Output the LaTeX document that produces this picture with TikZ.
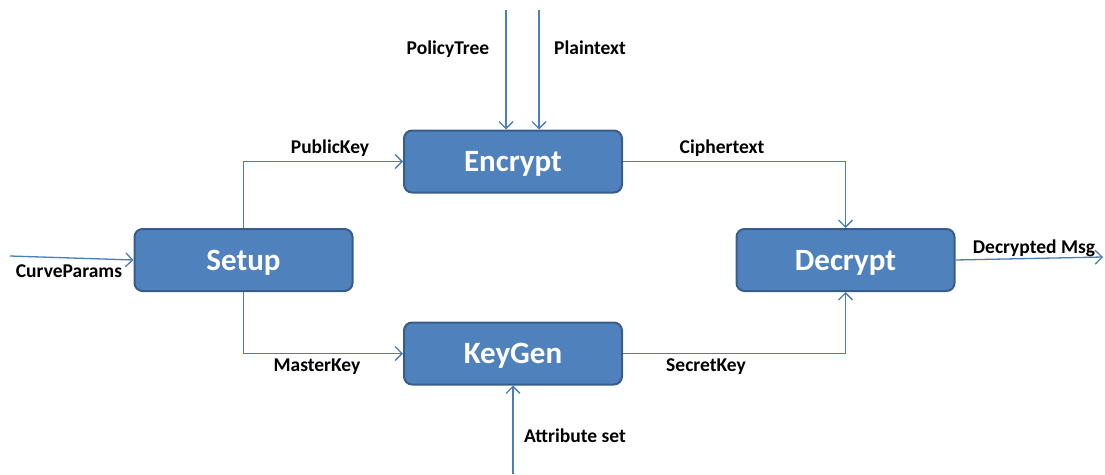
\documentclass[tikz,border=0pt]{standalone}
\usepackage{fontspec}
\setmainfont{Carlito}
\usetikzlibrary{arrows.meta}
\definecolor{boxfill}{HTML}{4F81BD}
\definecolor{boxline}{HTML}{385D8A}
\definecolor{lineblue}{HTML}{4A7EBB}
\begin{document}
\begin{tikzpicture}[x=1pt,y=-1pt,
  proc/.style={draw=boxline, line width=2pt, fill=boxfill, rounded corners=8pt,
    minimum width=218pt, minimum height=62pt, inner sep=0pt,
    text height=20pt, text depth=0pt,
    text=white, font=\fontsize{31}{34}\selectfont\bfseries},
  lbl/.style={font=\fontsize{19.5}{22}\selectfont\bfseries, text=black, inner sep=0pt},
  conn/.style={draw=lineblue, line width=1.3pt, -{Straight Barb[length=7pt,width=14pt,line width=1.3pt]}}
]
\useasboundingbox (0,0) rectangle (1105,474);
\node[proc] (setup) at (243.5,260) {Setup};
\node[proc] (enc) at (513,161.5) {Encrypt};
\node[proc] (kg) at (513,353.5) {KeyGen};
\node[proc] (dec) at (845.5,260) {Decrypt};

\coordinate (cpin) at (10,256);
\coordinate (pt1) at (506,10);
\coordinate (pt2) at (539,10);
\coordinate (attr) at (513,474);
\coordinate (msg) at (1103,257);

\draw[conn] (cpin) -- (setup.west);
\draw[conn] (pt1) -- (pt1 |- enc.north);
\draw[conn] (pt2) -- (pt2 |- enc.north);
\draw[conn] (setup.north) |- (enc.west);
\draw[conn] (setup.south) |- (kg.west);
\draw[conn] (enc.east) -| (dec.north);
\draw[conn] (kg.east) -| (dec.south);
\draw[conn] (attr) -- (kg.south);
\draw[conn] (dec.east) -- (msg);

\node[lbl] (l1) at (69,271) {CurveParams};
\node[lbl] (l2) at (448,49) {PolicyTree};
\node[lbl] (l3) at (590,48) {Plaintext};
\node[lbl] (l4) at (330,148) {PublicKey};
\node[lbl] (l5) at (317,367) {MasterKey};
\node[lbl] (l6) at (722,148) {Ciphertext};
\node[lbl] (l7) at (706,367) {SecretKey};
\node[lbl] (l8) at (575,436) {Attribute set};
\node[lbl] (l9) at (1034,248) {Decrypted Msg};
\end{tikzpicture}
\end{document}
